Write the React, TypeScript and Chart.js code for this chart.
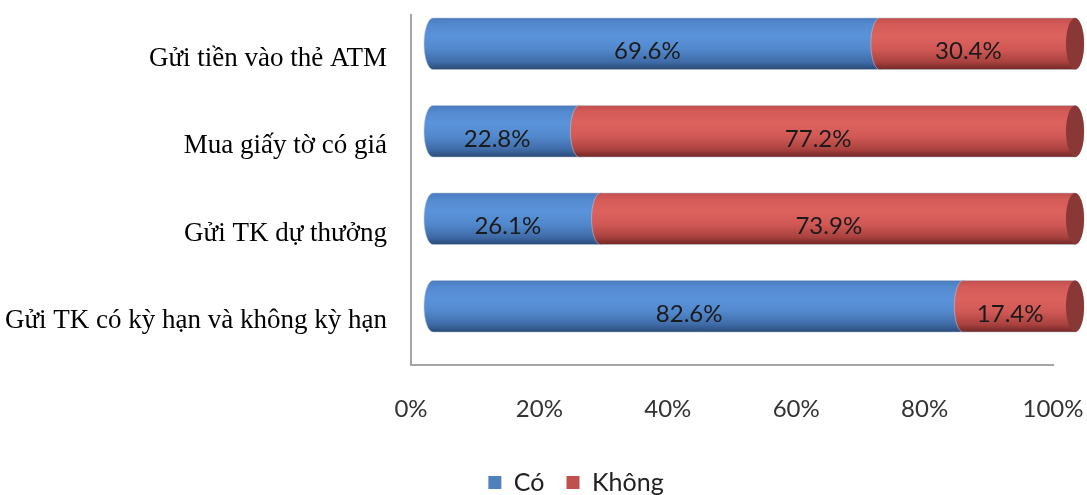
import React, { useEffect, useRef } from "react";
import { Chart, registerables } from "chart.js";

Chart.register(...registerables);

// Survey: share of respondents using each savings channel
const categories = [
  "Gửi tiền vào thẻ ATM",
  "Mua giấy tờ có giá",
  "Gửi TK dự thưởng",
  "Gửi TK có kỳ hạn và không kỳ hạn",
];
const seriesNames = ["Có", "Không"];
const coValues = [69.6, 22.8, 26.1, 82.6];
const khongValues = [30.4, 77.2, 73.9, 17.4];
const tickValues = [0, 20, 40, 60, 80, 100];

// Cylinder shading per series: vertical gradient stops + end-face colour
const shades = [
  {
    legend: "#4f81bd",
    stops: ["#4a7bbd", "#5389cf", "#5b93da", "#5289cd", "#3f6ca8", "#2a4a78"],
    face: "#3b64a0",
  },
  {
    legend: "#c0504d",
    stops: ["#c24f4c", "#d35b58", "#dc625e", "#d15955", "#aa423f", "#712826"],
    face: "#8a3836",
  },
];
const STOP_POS = [0, 0.12, 0.35, 0.6, 0.85, 1];

// 3D depth shift of the cylinders and of the value labels
const DEPTH_DX = 22;
const DEPTH_DY = -15;
const LABEL_DX = 13;
const LABEL_DY = -7;
const CAP_RX = 9;
const LEGEND_SHIFT = 47;

const cylinderPlugin = {
  id: "cylinders",
  afterLayout(chart: any) {
    // nudge the legend so it sits under the middle of the whole figure
    if (chart.legend) {
      chart.legend.left += LEGEND_SHIFT;
      chart.legend.right += LEGEND_SHIFT;
    }
  },
  beforeDatasetsDraw(chart: any) {
    const ctx = chart.ctx as CanvasRenderingContext2D;
    const n = chart.data.labels.length;
    const labelJobs: { x: number; y: number; text: string }[] = [];

    for (let i = 0; i < n; i++) {
      const segs: any[] = [];
      chart.data.datasets.forEach((ds: any, di: number) => {
        if (!chart.isDatasetVisible(di)) return;
        const el = chart.getDatasetMeta(di).data[i];
        if (!el) return;
        const p = el.getProps(["x", "y", "base", "height"], true);
        segs.push({ p, di, value: ds.data[i] });
      });

      segs.forEach((s, k) => {
        const { p, di } = s;
        const xs = Math.min(p.x, p.base) + DEPTH_DX;
        const xe = Math.max(p.x, p.base) + DEPTH_DX;
        const cy = p.y + DEPTH_DY;
        const ry = p.height / 2;
        const top = cy - ry;
        const bot = cy + ry;
        const sh = shades[di];

        const g = ctx.createLinearGradient(0, top, 0, bot);
        sh.stops.forEach((c, j) => g.addColorStop(STOP_POS[j], c));

        ctx.save();
        ctx.beginPath();
        ctx.moveTo(xs, top);
        ctx.lineTo(xe, top);
        ctx.ellipse(xe, cy, CAP_RX, ry, 0, -Math.PI / 2, Math.PI / 2, false);
        ctx.lineTo(xs, bot);
        ctx.ellipse(xs, cy, CAP_RX, ry, 0, Math.PI / 2, (3 * Math.PI) / 2, false);
        ctx.closePath();
        ctx.fillStyle = g;
        ctx.fill();
        ctx.strokeStyle = "rgba(190,200,215,0.55)";
        ctx.lineWidth = 1;
        ctx.stroke();

        if (k === segs.length - 1) {
          ctx.beginPath();
          ctx.ellipse(xe, cy, CAP_RX, ry, 0, 0, Math.PI * 2);
          ctx.fillStyle = sh.face;
          ctx.fill();
        }
        ctx.restore();

        labelJobs.push({
          x: (p.x + p.base) / 2 + LABEL_DX,
          y: p.y + LABEL_DY,
          text: s.value.toFixed(1) + "%",
        });
      });
    }

    ctx.save();
    ctx.font = "24px Lato";
    ctx.fillStyle = "#1a1a1a";
    ctx.textAlign = "center";
    ctx.textBaseline = "middle";
    labelJobs.forEach((l) => ctx.fillText(l.text, l.x, l.y));
    ctx.restore();

    return false;
  },
};

export default function App() {
  const canvasRef = useRef<HTMLCanvasElement | null>(null);

  useEffect(() => {
    if (!canvasRef.current) return;
    const chart = new Chart(canvasRef.current, {
      type: "bar",
      data: {
        labels: categories,
        datasets: [
          {
            label: seriesNames[0],
            data: coValues,
            backgroundColor: shades[0].legend,
            borderWidth: 0,
          },
          {
            label: seriesNames[1],
            data: khongValues,
            backgroundColor: shades[1].legend,
            borderWidth: 0,
          },
        ],
      },
      options: {
        indexAxis: "y",
        responsive: false,
        animation: false,
        datasets: {
          bar: { categoryPercentage: 1, barPercentage: 0.59 },
        },
        layout: { padding: { left: 5, right: 34, top: 15, bottom: -10 } },
        scales: {
          x: {
            type: "linear",
            stacked: true,
            min: 0,
            max: 100,
            afterBuildTicks: (scale: any) => {
              scale.ticks = tickValues.map((v) => ({ value: v }));
            },
            afterFit: (scale: any) => {
              scale.height = 83;
              scale.paddingLeft = 0;
              scale.paddingRight = 0;
            },
            grid: { display: false, drawTicks: false },
            border: { display: true, color: "#a6a6a6", width: 2 },
            ticks: {
              padding: 30,
              maxRotation: 0,
              color: "#333333",
              font: { family: "Lato", size: 24 },
              callback: (v: any) => v + "%",
            },
          },
          y: {
            stacked: true,
            afterFit: (scale: any) => {
              scale.width = 406;
              scale.paddingTop = 0;
              scale.paddingBottom = 0;
            },
            grid: { display: false, drawTicks: false },
            border: { display: true, color: "#a6a6a6", width: 2 },
            ticks: {
              padding: 24,
              color: "#000000",
              font: { family: "Liberation Serif", size: 27 },
            },
          },
        },
        plugins: {
          legend: {
            position: "bottom",
            labels: {
              boxWidth: 13,
              boxHeight: 13,
              padding: 22,
              color: "#222222",
              font: { family: "Lato", size: 25 },
            },
          },
          tooltip: { enabled: false },
        },
      },
      plugins: [cylinderPlugin],
    });
    return () => chart.destroy();
  }, []);

  return (
    <div style={{ position: "fixed", left: 0, top: 0, width: 1087, height: 495, background: "#fff" }}>
      <canvas ref={canvasRef} width={1087} height={495} />
    </div>
  );
}
